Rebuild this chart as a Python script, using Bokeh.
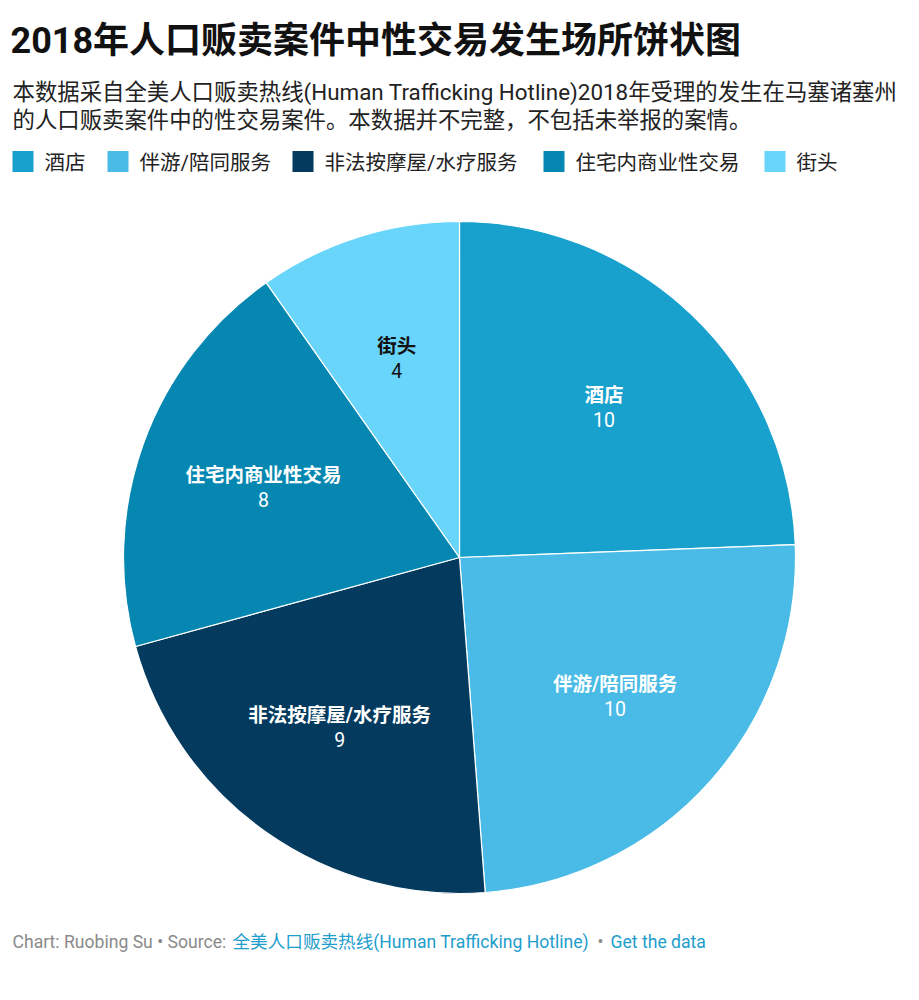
import numpy as np
from bokeh.plotting import figure
from bokeh.models import Range1d, ColumnDataSource
from bokeh.core.properties import value
from bokeh.embed import file_html
from bokeh.resources import INLINE

# ---- data ----
categories = ["酒店", "伴游/陪同服务", "非法按摩屋/水疗服务", "住宅内商业性交易", "街头"]
counts = [10, 10, 9, 8, 4]
colors = ["#19a1cd", "#49bbe6", "#033a5e", "#0587b1", "#69d5fb"]
label_colors = ["white", "white", "white", "white", "#111111"]

title_text = "2018年人口贩卖案件中性交易发生场所饼状图"
subtitle_lines = [
    "本数据采自全美人口贩卖热线(Human Trafficking Hotline)2018年受理的发生在马塞诸塞州",
    "的人口贩卖案件中的性交易案件。本数据并不完整，不包括未举报的案情。",
]
footer_parts = ["Chart: Ruobing Su • Source: ", "全美人口贩卖热线(Human Trafficking Hotline)", "•", "Get the data"]

FONT = value("Roboto, 'Noto Sans CJK SC', sans-serif")
W, H = 919, 1000

p = figure(width=W, height=H, x_range=Range1d(0, W), y_range=Range1d(0, H),
           output_backend="svg", toolbar_location=None,
           x_axis_location=None, y_axis_location=None, min_border=0)
p.grid.visible = False
p.outline_line_color = None
p.background_fill_color = "white"

def Y(py):
    return H - py

# ---- pie ----
cx, cy, r = 459, Y(557), 336
vals = np.array(counts, dtype=float)
frac = vals / vals.sum()
cum = np.concatenate([[0], np.cumsum(frac)])
start = np.pi / 2 - cum[:-1] * 2 * np.pi
end = np.pi / 2 - cum[1:] * 2 * np.pi
mid = (start + end) / 2
src = ColumnDataSource(dict(start=start, end=end, color=colors, cat=categories))
p.wedge(x=cx, y=cy, radius=r, start_angle="start", end_angle="end", direction="clock",
        fill_color="color", line_color="white", line_width=1.2, source=src)

lr = 0.62 * r
lx = cx + lr * np.cos(mid)
ly = cy + lr * np.sin(mid)
p.text(x=lx, y=ly + 12, text=categories, text_color=label_colors, text_font=FONT,
       text_font_size="19.5px", text_font_style="bold", text_align="center", text_baseline="middle")
p.text(x=lx, y=ly - 12, text=[str(c) for c in counts], text_color=label_colors, text_font=FONT,
       text_font_size="19.5px", text_align="center", text_baseline="middle")

# ---- title & subtitle ----
p.text(x=[10], y=[Y(40)], text=[title_text], text_font=FONT, text_font_size="36px",
       text_font_style="bold", text_color="#111111", text_baseline="middle")
p.text(x=[12, 12], y=[Y(91), Y(119)], text=subtitle_lines, text_font=FONT, text_font_size="22.4px",
       text_color="#222222", text_baseline="middle")

# ---- legend ----
leg_x = [12, 107, 292, 543, 764]
p.rect(x=[x + 10.5 for x in leg_x], y=[Y(161)] * 5, width=21, height=21, fill_color=colors, line_color=None)
p.text(x=[x + 32 for x in leg_x], y=[Y(162)] * 5, text=categories, text_font=FONT,
       text_font_size="20.5px", text_color="#222222", text_baseline="middle")

# ---- footer ----
fs = "17.6px"
p.text(x=[12], y=[Y(941)], text=[footer_parts[0]], text_font=FONT, text_font_size=fs,
       text_color="#8a8a8a", text_baseline="middle")
p.text(x=[232], y=[Y(941)], text=[footer_parts[1]], text_font=FONT, text_font_size=fs,
       text_color="#1d9dcc", text_baseline="middle")
p.text(x=[597], y=[Y(941)], text=[footer_parts[2]], text_font=FONT, text_font_size=fs,
       text_color="#8a8a8a", text_baseline="middle")
p.text(x=[610], y=[Y(941)], text=[footer_parts[3]], text_font=FONT, text_font_size=fs,
       text_color="#1d9dcc", text_baseline="middle")

open("out.html", "w").write(file_html(p, INLINE))
